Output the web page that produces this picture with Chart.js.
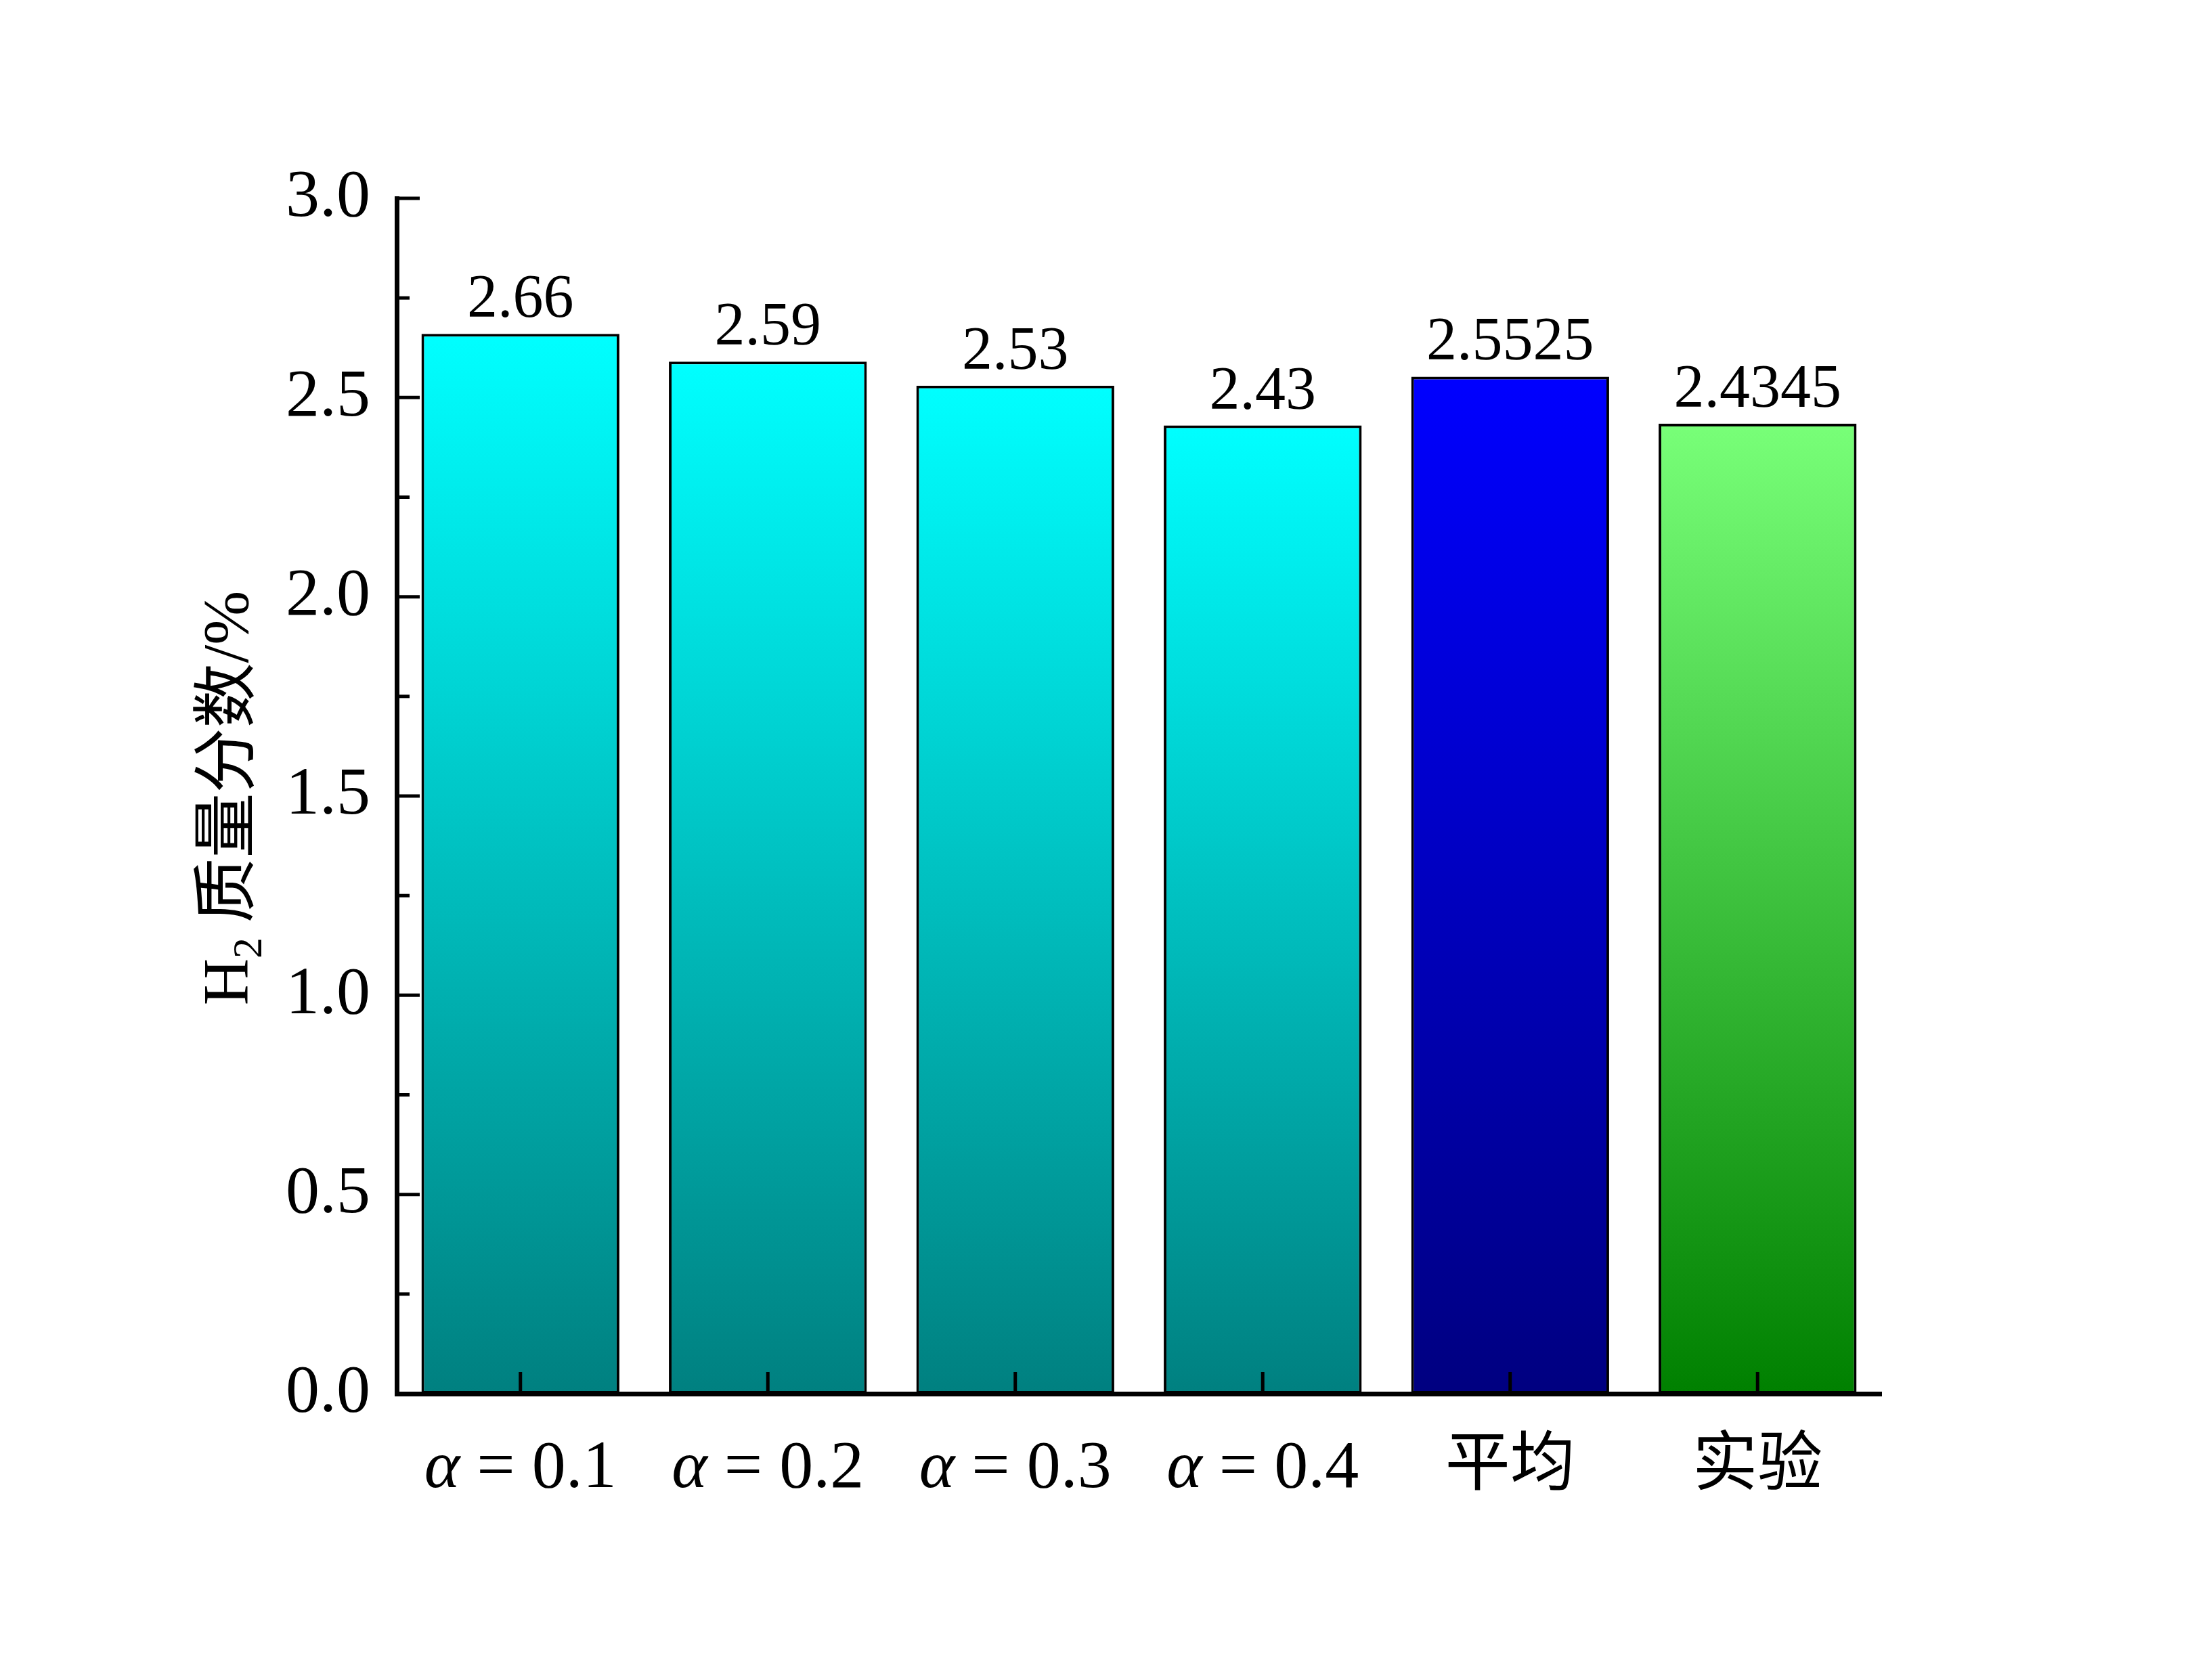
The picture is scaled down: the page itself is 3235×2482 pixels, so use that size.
<!DOCTYPE html>
<html><head><meta charset="utf-8">
<script src="https://cdn.jsdelivr.net/npm/chart.js@4.4.0/dist/chart.umd.min.js"></script>
<style>html,body{margin:0;padding:0;background:#fff;}#wrap{width:3235px;height:2482px;}</style>
</head><body><div id="wrap"><canvas id="c" width="3235" height="2482"></canvas></div>
<script>
const categories = ['α = 0.1', 'α = 0.2', 'α = 0.3', 'α = 0.4', '平均', '实验'];
const values = [2.66, 2.59, 2.53, 2.43, 2.5525, 2.4345];
const valueLabels = ['2.66', '2.59', '2.53', '2.43', '2.5525', '2.4345'];
const yTickValues = [0, 0.5, 1.0, 1.5, 2.0, 2.5, 3.0];
const yMinorValues = [0.25, 0.75, 1.25, 1.75, 2.25, 2.75];
const topColors = ['rgb(0,255,255)', 'rgb(0,255,255)', 'rgb(0,255,255)', 'rgb(0,255,255)', 'rgb(0,0,255)', 'rgb(120,255,120)'];
const bottomColors = ['rgb(0,128,128)', 'rgb(0,128,128)', 'rgb(0,128,128)', 'rgb(0,128,128)', 'rgb(0,0,128)', 'rgb(0,128,0)'];
const yTitleParts = [
  {t: 'H', kind: 'serif'},
  {t: '2', kind: 'sub'},
  {t: ' 质量分数', kind: 'cjk'},
  {t: '/%', kind: 'serif'}
];

const SERIF = "'Liberation Serif', 'Times New Roman', serif";
const CJK = "'Noto Sans CJK SC', sans-serif";

const overlay = {
  id: 'overlay',
  afterDatasetsDraw(chart) {
    const c = chart.ctx;
    const xs = chart.scales.x, ys = chart.scales.y;
    const area = chart.chartArea;
    c.save();
    c.strokeStyle = '#000';
    c.fillStyle = '#000';
    // y ticks (inward)
    c.lineWidth = 5;
    yTickValues.forEach(v => {
      const py = ys.getPixelForValue(v);
      c.beginPath(); c.moveTo(area.left, py); c.lineTo(area.left + 34, py); c.stroke();
    });
    yMinorValues.forEach(v => {
      const py = ys.getPixelForValue(v);
      c.beginPath(); c.moveTo(area.left, py); c.lineTo(area.left + 19, py); c.stroke();
    });
    // x ticks (inward)
    categories.forEach((cat, i) => {
      const px = xs.getPixelForTick(i);
      c.beginPath(); c.moveTo(px, area.bottom); c.lineTo(px, area.bottom - 32); c.stroke();
    });
    // value labels
    const meta = chart.getDatasetMeta(0);
    c.font = '90px ' + SERIF;
    c.textAlign = 'center';
    c.textBaseline = 'alphabetic';
    meta.data.forEach((bar, i) => {
      c.fillText(valueLabels[i], bar.x, bar.y - 25);
    });
    // x labels
    const baseY = 2197;
    categories.forEach((cat, i) => {
      const px = xs.getPixelForTick(i);
      c.textAlign = 'left';
      if (cat.startsWith('α')) {
        const rest = cat.slice(1);
        c.font = 'italic 100px ' + SERIF;
        const wa = c.measureText('α').width;
        c.font = '100px ' + SERIF;
        const wr = c.measureText(rest).width;
        let x0 = px - (wa + wr) / 2;
        c.font = 'italic 100px ' + SERIF;
        c.fillText('α', x0, baseY);
        c.font = '100px ' + SERIF;
        c.fillText(rest, x0 + wa, baseY);
      } else {
        c.font = '96px ' + CJK;
        c.textAlign = 'center';
        c.fillText(cat, px, baseY - 4);
      }
    });
    // y title
    c.save();
    c.translate(366, 1179);
    c.rotate(-Math.PI / 2);
    c.textAlign = 'left';
    const fontFor = k => k === 'cjk' ? ('96px ' + CJK) : (k === 'sub' ? ('62px ' + SERIF) : ('96px ' + SERIF));
    let total = 0;
    yTitleParts.forEach(p => { c.font = fontFor(p.kind); total += c.measureText(p.t).width; });
    let x = -total / 2;
    yTitleParts.forEach(p => {
      c.font = fontFor(p.kind);
      const dy = p.kind === 'sub' ? 20 : 0;
      c.fillText(p.t, x, dy);
      x += c.measureText(p.t).width;
    });
    c.restore();
    c.restore();
  }
};

new Chart(document.getElementById('c'), {
  type: 'bar',
  data: {
    labels: categories,
    datasets: [{
      data: values,
      backgroundColor: (ctx) => {
        const i = ctx.dataIndex;
        const chart = ctx.chart;
        const ys = chart.scales && chart.scales.y;
        if (ctx.type !== 'data' || !chart.chartArea || !ys) return topColors[i] || topColors[0];
        const top = ys.getPixelForValue(values[i]);
        const bot = ys.getPixelForValue(0);
        const g = chart.ctx.createLinearGradient(0, top, 0, bot);
        g.addColorStop(0, topColors[i]);
        g.addColorStop(1, bottomColors[i]);
        return g;
      },
      borderColor: '#000',
      borderWidth: 4,
      borderSkipped: false,
      categoryPercentage: 1.0,
      barPercentage: 0.8
    }]
  },
  options: {
    responsive: false,
    animation: false,
    devicePixelRatio: 1,
    layout: {padding: {left: 0, top: 293, right: 456, bottom: 0}},
    plugins: {legend: {display: false}, tooltip: {enabled: false}, title: {display: false}},
    scales: {
      x: {
        offset: true,
        grid: {display: false, drawTicks: false},
        border: {display: true, color: '#000', width: 7},
        ticks: {display: false},
        afterFit: s => { s.height = 423; }
      },
      y: {
        min: 0, max: 3,
        grid: {display: false, drawTicks: false},
        border: {display: true, color: '#000', width: 7},
        ticks: {
          stepSize: 0.5, padding: 39, color: '#000',
          font: {family: SERIF, size: 100},
          callback: v => Number(v).toFixed(1)
        },
        afterFit: s => { s.width = 586; }
      }
    }
  },
  plugins: [overlay]
});
</script>
</body></html>
